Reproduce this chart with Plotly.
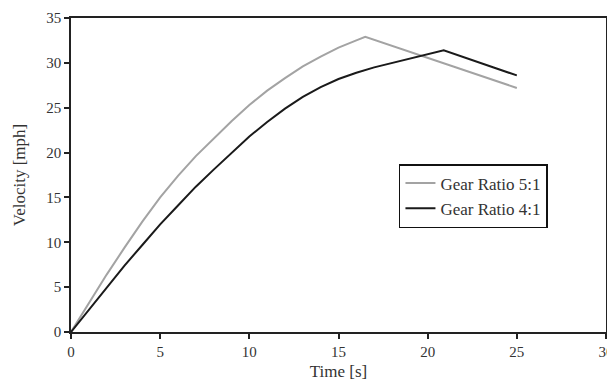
import plotly.graph_objects as go

t_5to1 = [0, 1, 2, 3, 4, 5, 6, 7, 8, 9, 10, 11, 12, 13, 14, 15, 16, 16.5, 25]
v_5to1 = [0, 3.2, 6.4, 9.4, 12.3, 15.0, 17.4, 19.6, 21.6, 23.5, 25.3, 26.9, 28.3, 29.6, 30.7, 31.7, 32.5, 32.9, 27.2]

t_4to1 = [0, 1, 2, 3, 4, 5, 6, 7, 8, 9, 10, 11, 12, 13, 14, 15, 16, 17, 18, 19, 20, 20.9, 25]
v_4to1 = [0, 2.5, 5.0, 7.4, 9.7, 12.0, 14.1, 16.2, 18.1, 20.0, 21.8, 23.4, 24.9, 26.2, 27.3, 28.2, 28.9, 29.5, 30.0, 30.5, 31.0, 31.4, 28.6]

x_ticks = [0, 5, 10, 15, 20, 25, 30]
y_ticks = [0, 5, 10, 15, 20, 25, 30, 35]

fig = go.Figure()
fig.add_trace(go.Scatter(x=t_5to1, y=v_5to1, mode="lines", name="Gear Ratio 5:1",
                         legendgroup="a", line=dict(color="#a3a3a3", width=2)))
fig.add_trace(go.Scatter(x=t_4to1, y=v_4to1, mode="lines", name="Gear Ratio 4:1",
                         legendgroup="b", line=dict(color="#1a1a1a", width=2)))

axis_common = dict(showline=True, linecolor="#222", linewidth=1.5, mirror=True,
                   ticks="outside", ticklen=5, tickcolor="#222", tickwidth=1.5,
                   showgrid=False, zeroline=False, automargin=False,
                   tickfont=dict(family="Liberation Serif", size=15, color="#333"))

# page body has an 8px margin, so the figure is sized to fit the 615x385 window
fig.update_layout(
    width=607, height=377,
    margin=dict(l=63, r=9, t=10, b=53),
    paper_bgcolor="white", plot_bgcolor="white",
    showlegend=True,
    legend=dict(x=0.613, y=0.535, xanchor="left", yanchor="top",
                bordercolor="#111", borderwidth=1.5, bgcolor="white",
                font=dict(family="Liberation Serif", size=17, color="#333"),
                itemwidth=30, tracegroupgap=0, traceorder="grouped"),
    xaxis=dict(range=[0, 30], tickvals=x_ticks, title=dict(text="Time [s]", standoff=6,
               font=dict(family="Liberation Serif", size=17, color="#333")), **axis_common),
    yaxis=dict(range=[0, 35], tickvals=y_ticks, title=dict(text="Velocity [mph]", standoff=16,
               font=dict(family="Liberation Serif", size=17, color="#333")), **axis_common),
)

fig.write_html("out.html")
